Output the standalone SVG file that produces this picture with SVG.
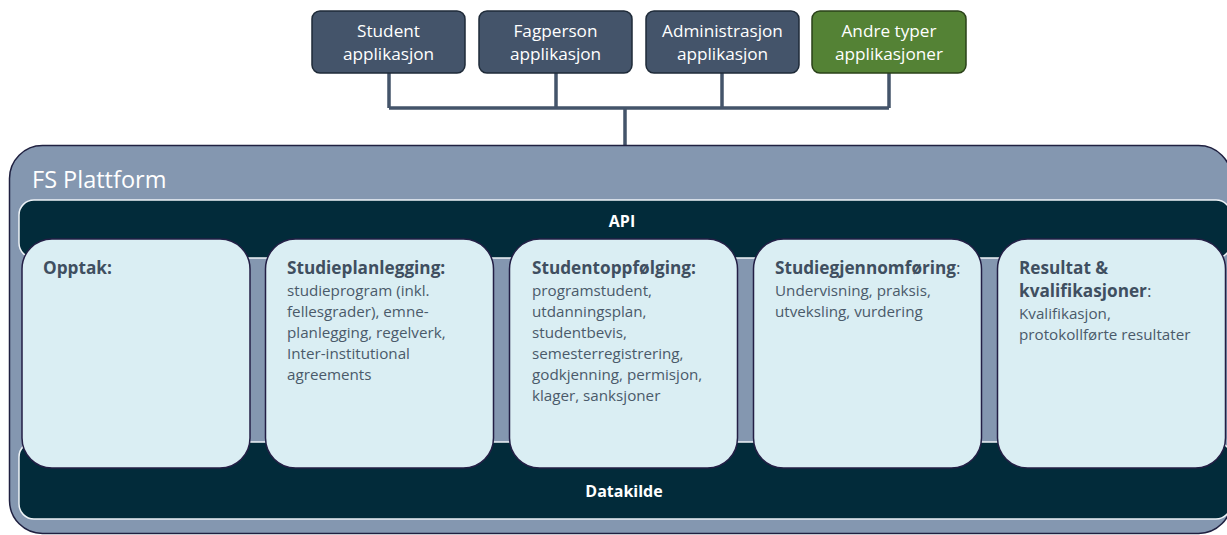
<svg xmlns="http://www.w3.org/2000/svg" width="1227" height="535" viewBox="0 0 1227 535">
<style>
.app{fill:#44546a;stroke:#1e2a38;stroke-width:1.5}
.green{fill:#548235;stroke:#2a4119;stroke-width:1.5}
.apptxt{font-family:"Open Sans","Liberation Sans",sans-serif;font-size:17.2px;fill:#ffffff;text-anchor:middle}
.conn{fill:none;stroke:#44546a;stroke-width:3.5}
.plat{fill:#8497b0;stroke:#1f2040;stroke-width:1.5}
.bar{fill:#022b3a;stroke:#eef3f7;stroke-width:1.5}
.bartxt{font-family:"Open Sans","Liberation Sans",sans-serif;font-size:16px;font-weight:bold;fill:#ffffff;text-anchor:middle}
.card{fill:#daeef3;stroke:#231f45;stroke-width:1.5}
.title{font-family:"Open Sans","Liberation Sans",sans-serif;font-size:17.2px;font-weight:bold;fill:#3f4f60}
.body{font-family:"Open Sans","Liberation Sans",sans-serif;font-size:15.2px;fill:#4a5a6a}
.reg{font-weight:normal}
</style>
<rect width="1227" height="535" fill="#ffffff"/>
<g id="connectors">
<path class="conn" d="M389 73 V108 M556 73 V108 M722 73 V108 M889 73 V108 M389 108 H889 M625 108 V146"/>
</g>
<g id="app-student">
<rect class="app" x="312" y="11" width="153" height="62" rx="8"/>
<text class="apptxt" x="388.5" y="37">Student</text>
<text class="apptxt" x="388.5" y="60">applikasjon</text>
</g>
<g id="app-fagperson">
<rect class="app" x="479" y="11" width="153" height="62" rx="8"/>
<text class="apptxt" x="555.5" y="37">Fagperson</text>
<text class="apptxt" x="555.5" y="60">applikasjon</text>
</g>
<g id="app-administrasjon">
<rect class="app" x="646" y="11" width="153" height="62" rx="8"/>
<text class="apptxt" x="722.5" y="37">Administrasjon</text>
<text class="apptxt" x="722.5" y="60">applikasjon</text>
</g>
<g id="app-andre">
<rect class="green" x="812" y="11" width="154" height="62" rx="8"/>
<text class="apptxt" x="889" y="37">Andre typer</text>
<text class="apptxt" x="889" y="60">applikasjoner</text>
</g>
<g id="fs-plattform">
<rect class="plat" x="9.5" y="145.5" width="1222" height="388" rx="33"/>
<text x="32" y="188" font-family="'Open Sans','Liberation Sans',sans-serif" font-size="23.5" fill="#ffffff">FS Plattform</text>
</g>
<g id="api">
<rect class="bar" x="19" y="200" width="1212" height="58" rx="15"/>
<text class="bartxt" x="622" y="227">API</text>
</g>
<g id="datakilde">
<rect class="bar" x="19" y="442" width="1212" height="77" rx="15"/>
<text class="bartxt" x="624" y="497">Datakilde</text>
</g>
<g id="card-opptak">
<rect class="card" x="22" y="239" width="228" height="229" rx="30"/>
<text class="title" x="43" y="274">Opptak:</text>
</g>
<g id="card-studieplanlegging">
<rect class="card" x="265.5" y="239" width="228" height="229" rx="30"/>
<text class="title" x="287" y="274">Studieplanlegging:</text>
<text class="body" x="287"><tspan x="287" y="296">studieprogram (inkl.</tspan><tspan x="287" y="317">fellesgrader), emne-</tspan><tspan x="287" y="338">planlegging, regelverk,</tspan><tspan x="287" y="359">Inter-institutional</tspan><tspan x="287" y="380">agreements</tspan></text>
</g>
<g id="card-studentoppfolging">
<rect class="card" x="509.5" y="239" width="228" height="229" rx="30"/>
<text class="title" x="532" y="274">Studentoppfølging:</text>
<text class="body" x="532"><tspan x="532" y="296">programstudent,</tspan><tspan x="532" y="317">utdanningsplan,</tspan><tspan x="532" y="338">studentbevis,</tspan><tspan x="532" y="359">semesterregistrering,</tspan><tspan x="532" y="380">godkjenning, permisjon,</tspan><tspan x="532" y="401">klager, sanksjoner</tspan></text>
</g>
<g id="card-studiegjennomforing">
<rect class="card" x="753.5" y="239" width="228" height="229" rx="30"/>
<text class="title" x="775" y="274">Studiegjennomføring<tspan class="reg">:</tspan></text>
<text class="body" x="775"><tspan x="775" y="296">Undervisning, praksis,</tspan><tspan x="775" y="317">utveksling, vurdering</tspan></text>
</g>
<g id="card-resultat">
<rect class="card" x="997.5" y="239" width="228" height="229" rx="30"/>
<text class="title" x="1019" y="274">Resultat &amp;</text>
<text class="title" x="1019" y="297">kvalifikasjoner<tspan class="reg">:</tspan></text>
<text class="body" x="1019"><tspan x="1019" y="319">Kvalifikasjon,</tspan><tspan x="1019" y="340">protokollførte resultater</tspan></text>
</g>
</svg>
